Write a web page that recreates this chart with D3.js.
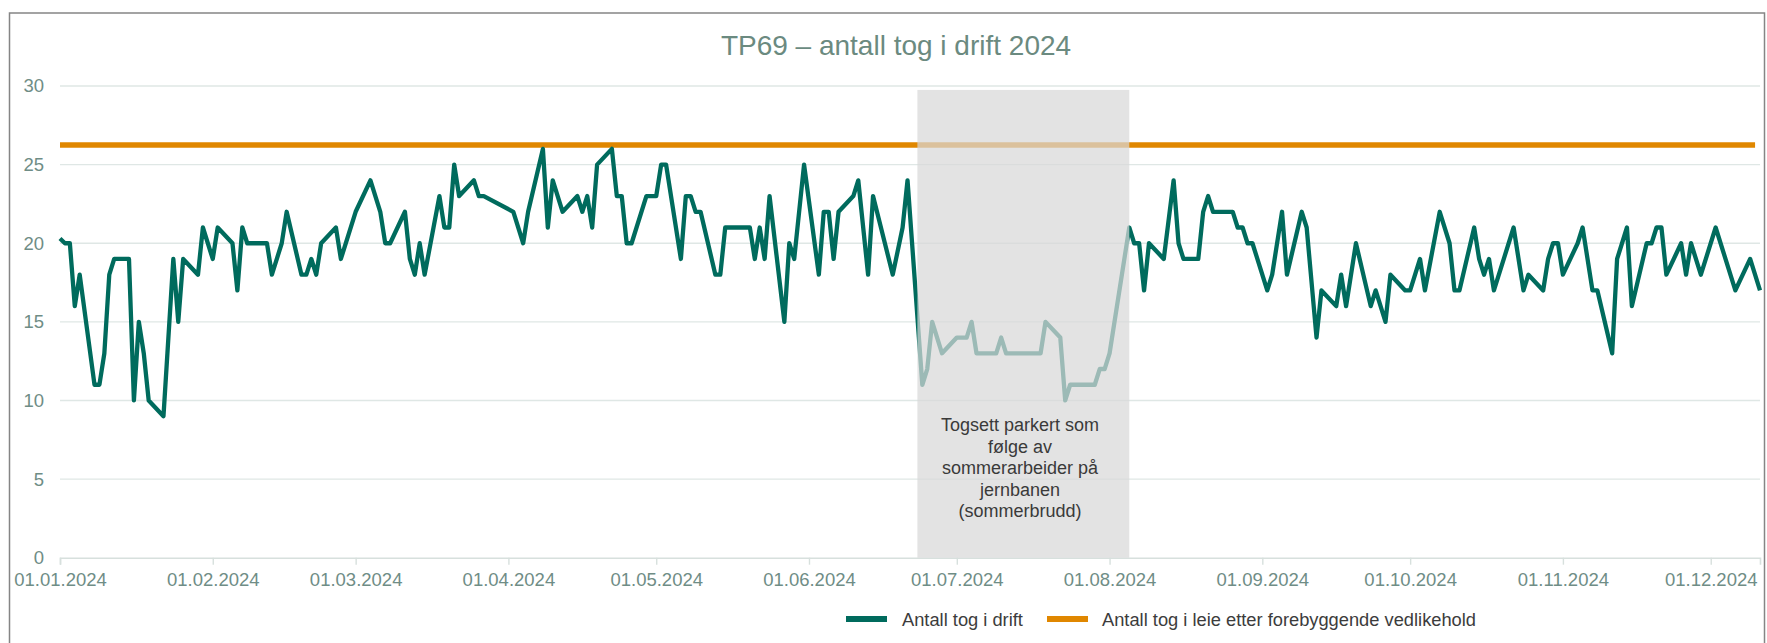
<!DOCTYPE html>
<html>
<head>
<meta charset="utf-8">
<script src="https://cdn.jsdelivr.net/npm/d3@7"></script>
<style>
  body { margin: 0; background: #fff; }
  svg { display: block; font-family: "Liberation Sans", Arial, sans-serif; }
</style>
</head>
<body>
<div id="chart"></div>
<script>
const title = "TP69 – antall tog i drift 2024";

// daily counts (only the days where the line changes direction are listed)
const driftDates = [
  "01.01","02.01","03.01","04.01","05.01","08.01","09.01","10.01","11.01","12.01",
  "15.01","16.01","17.01","18.01","19.01","22.01","24.01","25.01","26.01","29.01",
  "30.01","01.02","02.02","05.02","06.02","07.02","08.02","12.02","13.02","15.02",
  "16.02","19.02","20.02","21.02","22.02","23.02","26.02","27.02","01.03","04.03",
  "06.03","07.03","08.03","11.03","12.03","13.03","14.03","15.03","18.03","19.03",
  "20.03","21.03","22.03","25.03","26.03","27.03","02.04","04.04","05.04","08.04",
  "09.04","10.04","12.04","15.04","16.04","17.04","18.04","19.04","22.04","23.04",
  "24.04","25.04","26.04","29.04","01.05","02.05","03.05","06.05","07.05","08.05",
  "09.05","10.05","13.05","14.05","15.05","20.05","21.05","22.05","23.05","24.05",
  "27.05","28.05","29.05","31.05","03.06","04.06","05.06","06.06","07.06","10.06",
  "11.06","13.06","14.06","18.06","20.06","21.06","24.06","25.06","26.06","28.06",
  "01.07","03.07","04.07","05.07","09.07","10.07","11.07","18.07","19.07","22.07",
  "23.07","24.07","29.07","30.07","31.07","01.08","05.08","06.08","07.08","08.08",
  "09.08","12.08","14.08","15.08","16.08","19.08","20.08","21.08","22.08","26.08",
  "27.08","28.08","29.08","30.08","02.09","03.09","05.09","06.09","09.09","10.09",
  "12.09","13.09","16.09","17.09","18.09","20.09","23.09","24.09","26.09","27.09",
  "30.09","01.10","03.10","04.10","07.10","09.10","10.10","11.10","14.10","15.10",
  "16.10","17.10","18.10","22.10","24.10","25.10","28.10","29.10","30.10","31.10",
  "01.11","04.11","05.11","07.11","08.11","11.11","12.11","14.11","15.11","18.11",
  "19.11","20.11","21.11","22.11","25.11","26.11","27.11","29.11","02.12","06.12",
  "09.12","11.12"
];
const driftValues = [
  20.3,20,20,16,18,11,11,13,18,19,
  19,10,15,13,10,9,19,15,19,18,
  21,19,21,20,17,21,20,20,18,20,
  22,18,18,19,18,20,21,19,22,24,
  22,20,20,22,19,18,20,18,23,21,
  21,25,23,24,23,23,22,20,22,26,
  21,24,22,23,22,23,21,25,26,23,
  23,20,20,23,23,25,25,19,23,23,
  22,22,18,18,21,21,19,21,19,23,
  15,20,19,25,18,22,22,19,22,23,
  24,18,23,18,21,24,11,12,15,13,
  14,14,15,13,13,14,13,13,15,14,
  10,11,11,12,12,13,21,20,20,17,
  20,19,24,20,19,19,22,23,22,22,
  21,21,20,20,17,18,22,18,22,21,
  14,17,16,18,16,20,16,17,15,18,
  17,17,19,17,22,20,17,17,21,19,
  18,19,17,21,17,18,17,19,20,20,
  18,20,21,17,17,13,19,21,16,20,
  20,21,21,18,20,18,20,18,21,17,
  19,17
];

const leieDates = ["01.01", "10.12"];
const leieValues = [26.25, 26.25];

const seriesNames = ["Antall tog i drift", "Antall tog i leie etter forebyggende vedlikehold"];
const seriesColors = ["#006b5d", "#e08700"];

const yTicks = [0, 5, 10, 15, 20, 25, 30];
const monthTicks = ["01.01","01.02","01.03","01.04","01.05","01.06","01.07","01.08","01.09","01.10","01.11","01.12"];
const xDomain = ["01.01", "11.12"];

// summer break band + its note
const bandDates = ["23.06", "05.08"];
const bandTop = 29.75;
const noteLines = ["Togsett parkert som", "følge av", "sommerarbeider på", "jernbanen", "(sommerbrudd)"];

const parse = s => d3.timeParse("%d.%m.%Y")(s + ".2024");

const W = 1767, H = 643;
const plot = { left: 60, right: 1760, top: 86, bottom: 557.7 };

const svg = d3.select("#chart").append("svg").attr("width", W).attr("height", H);

const x = d3.scaleTime().domain(xDomain.map(parse)).range([plot.left, plot.right]);
const y = d3.scaleLinear().domain([0, 30]).range([plot.bottom, plot.top]);

/* frame */
svg.append("rect")
  .attr("x", 9.5).attr("y", 13).attr("width", 1755).attr("height", 700)
  .attr("fill", "none").attr("stroke", "#858585").attr("stroke-width", 1.5);

svg.append("text")
  .attr("x", 896).attr("y", 54.5).attr("text-anchor", "middle")
  .attr("font-size", 28).attr("fill", "#6b8a80")
  .text(title);

/* gridlines */
svg.append("g").selectAll("line").data(yTicks.filter(d => d > 0)).join("line")
  .attr("x1", plot.left).attr("x2", plot.right)
  .attr("y1", d => y(d)).attr("y2", d => y(d))
  .attr("stroke", "#dfe7e5").attr("stroke-width", 1.4);

/* axes */
svg.append("g").attr("transform", `translate(${plot.left},0)`)
  .call(d3.axisLeft(y).tickValues(yTicks).tickSize(0).tickPadding(16))
  .call(g => g.select(".domain").remove())
  .call(g => g.selectAll(".tick text").attr("fill", "#6f8d86").attr("font-size", 18.5)
    .attr("font-family", "Liberation Sans, Arial, sans-serif"));

svg.append("g").attr("transform", `translate(0,${plot.bottom})`)
  .call(d3.axisBottom(x).tickValues(monthTicks.map(parse))
    .tickFormat(d3.timeFormat("%d.%m.%Y")).tickSize(7).tickPadding(8))
  .call(g => g.select(".domain").attr("stroke", "#d7e0dd").attr("stroke-width", 1.6))
  .call(g => g.selectAll(".tick line").attr("stroke", "#d7e0dd").attr("stroke-width", 1.4))
  .call(g => g.selectAll(".tick text").attr("fill", "#6f8d86").attr("font-size", 18.5)
    .attr("font-family", "Liberation Sans, Arial, sans-serif"));

/* lines */
const line = d3.line().x(d => x(d[0])).y(d => y(d[1]));

svg.append("path")
  .datum(leieDates.map((d, i) => [parse(d), leieValues[i]]))
  .attr("d", line).attr("fill", "none")
  .attr("stroke", seriesColors[1]).attr("stroke-width", 5.5);

svg.append("path")
  .datum(driftDates.map((d, i) => [parse(d), driftValues[i]]))
  .attr("d", line).attr("fill", "none")
  .attr("stroke", seriesColors[0]).attr("stroke-width", 4.3)
  .attr("stroke-linejoin", "round");

/* translucent band over the summer weeks */
svg.append("rect")
  .attr("x", x(parse(bandDates[0]))).attr("y", y(bandTop))
  .attr("width", x(parse(bandDates[1])) - x(parse(bandDates[0])))
  .attr("height", y(0) - y(bandTop))
  .attr("fill", "#d8d8d8").attr("opacity", 0.72);

svg.append("text")
  .attr("x", 1020).attr("y", 431)
  .attr("text-anchor", "middle").attr("font-size", 18).attr("fill", "#3a3a3a")
  .selectAll("tspan").data(noteLines).join("tspan")
  .attr("x", 1020).attr("dy", (d, i) => i === 0 ? 0 : 21.6)
  .text(d => d);

/* legend */
const legendX = [846, 1047];
const leg = svg.append("g").selectAll("g").data(seriesNames).join("g")
  .attr("transform", (d, i) => `translate(${legendX[i]},619)`);
leg.append("line").attr("x1", 0).attr("x2", 41)
  .attr("stroke", (d, i) => seriesColors[i]).attr("stroke-width", 6);
leg.append("text").attr("x", (d, i) => i === 0 ? 56 : 55).attr("y", 6.5)
  .attr("font-size", 18.3).attr("fill", "#3c3c3c")
  .text(d => d);
</script>
</body>
</html>
